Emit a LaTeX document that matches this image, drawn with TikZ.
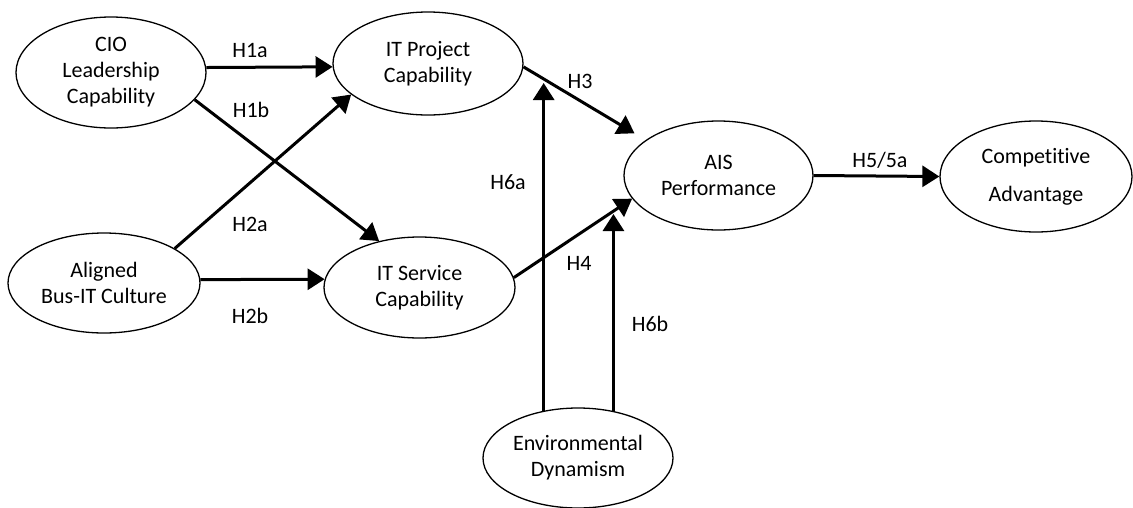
\documentclass[tikz,border=0pt]{standalone}
\usepackage{fontspec}
\setmainfont{Carlito}[Ligatures={NoCommon,NoContextual},RawFeature={-liga;-clig;-calt;-dlig}]
\usetikzlibrary{shapes.geometric,arrows.meta}
\begin{document}
\begin{tikzpicture}[x=1pt,y=-1pt,
  construct/.style={ellipse,draw,line width=1.3pt,fill=white,inner sep=0pt,
    align=center,font=\fontsize{22}{26}\selectfont},
  hpath/.style={line width=3pt,-{Triangle[length=17pt,width=21pt]}},
  hyp/.style={font=\fontsize{22}{26}\selectfont,inner sep=0pt}]
\useasboundingbox (0,0) rectangle (1133,507);

% constructs
\node[construct,minimum width=190pt,minimum height=111pt] (cio) at (111,72.5) {CIO\\Leadership\\Capability};
\node[construct,minimum width=190pt,minimum height=103pt] (itp) at (428,63.5) {IT Project\\Capability};
\node[construct,minimum width=192pt,minimum height=100pt] (al) at (104,283) {Aligned\\Bus-IT Culture};
\node[construct,minimum width=191pt,minimum height=101pt] (its) at (419.5,287.5) {IT Service\\Capability};
\node[construct,minimum width=189pt,minimum height=109pt] (ais) at (718.5,175.5) {AIS\\Performance};
\node[construct,minimum width=192pt,minimum height=111pt,font=\fontsize{22}{38}\selectfont] (ca) at (1036,176.5) {Compet\kern0pt itive\\Advantage};
\node[construct,minimum width=190pt,minimum height=100pt] (env) at (578,458) {Environmental\\Dynamism};

% hypothesised paths
\draw[hpath] (cio.3) -- (itp.-178);
\draw[hpath] (cio.-18) -- (its.131);
\draw[hpath] (al.26) -- (itp.-158);
\draw[hpath] (al.2) -- (its.175);
\draw[hpath,shorten >=13pt] (itp.-2) -- (ais.154);
\draw[hpath] (its.6) -- (ais.-165);
\draw[hpath] (ais.east) -- (ca.west);

% moderating paths
\coordinate (tipA) at (544,83);
\coordinate (tipB) at (613,214);
\draw[hpath] (env.126) -- (env.126 |- tipA);
\draw[hpath] (env.53) -- (env.53 |- tipB);

% hypothesis labels
\node[hyp] (l1a) at (250,50) {H1a};
\node[hyp] (l1b) at (251,110) {H1b};
\node[hyp] (l2a) at (250,224) {H2a};
\node[hyp] (l2b) at (250,316) {H2b};
\node[hyp] (l3) at (580,81) {H3};
\node[hyp] (l4) at (579,263) {H4};
\node[hyp] (l6a) at (508,182) {H6a};
\node[hyp] (l6b) at (650,324) {H6b};
\node[hyp] (l5) at (880,160) {H5/5a};
\end{tikzpicture}
\end{document}
